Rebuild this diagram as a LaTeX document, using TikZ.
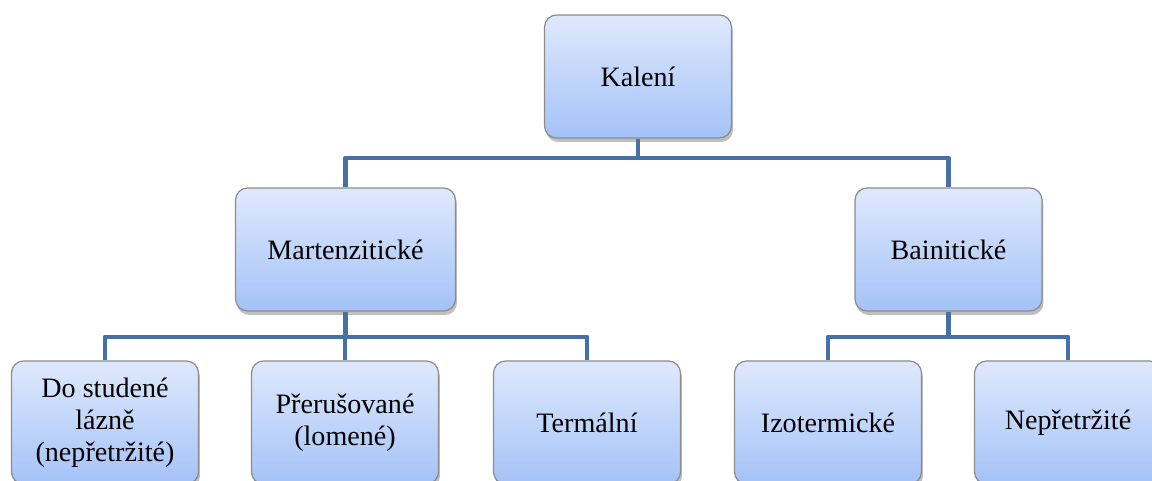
\documentclass[tikz,border=0pt]{standalone}
\usepackage{fontspec}
\setmainfont{Liberation Serif}
\usetikzlibrary{positioning,shadows}

\definecolor{boxtop}{HTML}{DFE9FC}
\definecolor{boxmid}{HTML}{CCDDFB}
\definecolor{boxbot}{HTML}{A4C2F8}
\definecolor{boxline}{HTML}{8C8C8C}
\definecolor{busline}{HTML}{4670A6}

\begin{document}
\begin{tikzpicture}[
      x=0.02cm, y=0.02cm,
      font=\fontsize{16}{18.2}\selectfont,
      kind/.style={draw=boxline, line width=0.7pt, rounded corners=0.24cm,
                   top color=boxtop, middle color=boxmid, bottom color=boxbot,
                   minimum width=3.74cm, minimum height=2.46cm, inner sep=2pt,
                   align=center,
                   drop shadow={shadow xshift=0.03cm, shadow yshift=-0.08cm,
                                opacity=0.25, fill=black}},
      bus/.style={draw=busline, line width=2.8pt, line join=round},
    ]
    \clip (0,0) rectangle (1152,480);
    % root
    \node[kind] (kaleni) at (638,403.5) {Kalení};
    % two main groups
    \node[kind, minimum width=4.4cm] (mart) at (345.5,230.5) {Martenzitické};
    \node[kind] (bain) at (948.5,230.5) {Bainitické};
    % leaves
    \node[kind] (studena) at (105,57.5)  {Do studené\\lázně\\(nepřetržité)};
    \node[kind] (preruso) at (345,57.5)  {Přerušované\\(lomené)};
    \node[kind] (termal)  at (587,57.5)  {Termální};
    \node[kind] (izoterm) at (828,57.5)  {Izotermické};
    \node[kind] (nepretr) at (1068,57.5) {Nepřetržité};
    % bus points
    \coordinate (top) at (638,322);
    \coordinate (mbus) at (345.5,143);
    \coordinate (bbus) at (948.5,143);
    % connectors
    \draw[bus] (kaleni.south) -- (top);
    \draw[bus] (mart.north) |- (top) -| (bain.north);
    \draw[bus] (mart.south) -- (mbus);
    \draw[bus] (bain.south) -- (bbus);
    \foreach \n in {studena,preruso,termal}{
      \draw[bus] (mbus) -| (\n.north);
    }
    \foreach \n in {izoterm,nepretr}{
      \draw[bus] (bbus) -| (\n.north);
    }
  \end{tikzpicture}
\end{document}
